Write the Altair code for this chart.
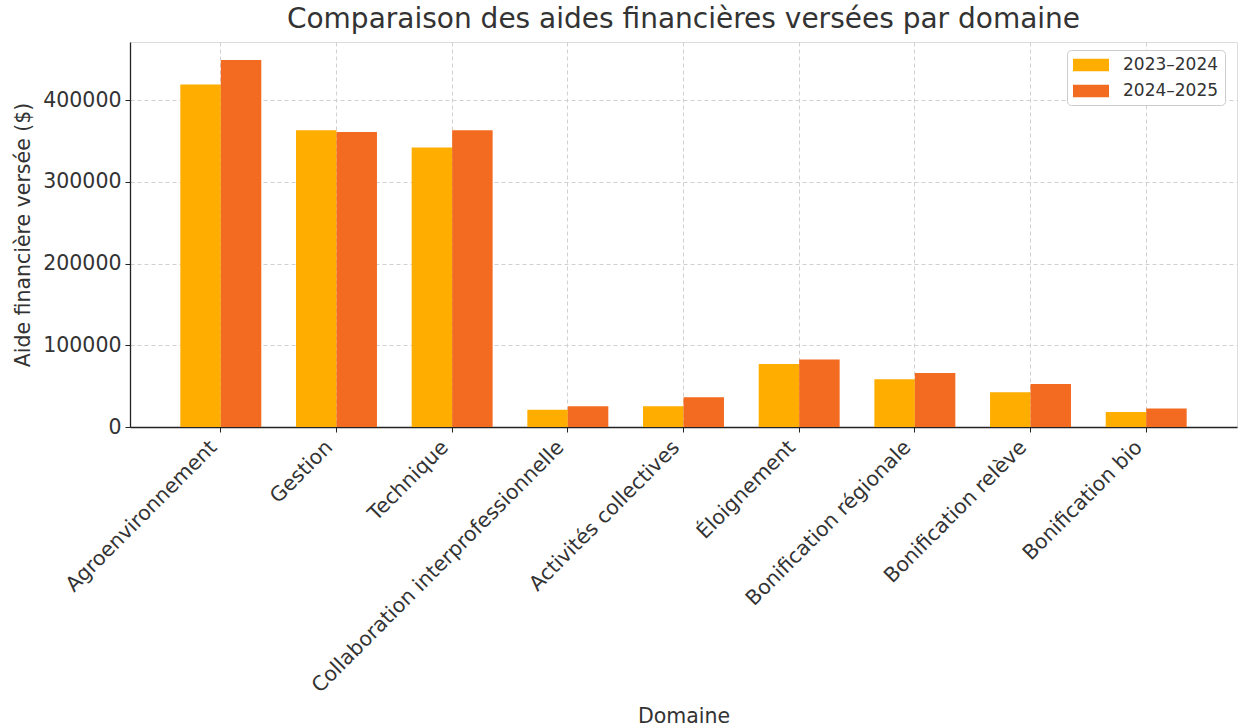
import altair as alt
import pandas as pd

domaines = [
    "Agroenvironnement", "Gestion", "Technique",
    "Collaboration interprofessionnelle", "Activités collectives",
    "Éloignement", "Bonification régionale", "Bonification relève",
    "Bonification bio",
]
periodes = ["2023–2024", "2024–2025"]
aide_2023_2024 = [419000, 363000, 342000, 21000, 25500, 77000, 58500, 42500, 18500]
aide_2024_2025 = [449000, 361000, 363000, 25500, 36500, 82500, 66000, 52500, 22500]
couleurs = ["#FFAE00", "#F26B21"]
y_ticks = [0, 100000, 200000, 300000, 400000]

rows = []
for d, a, b in zip(domaines, aide_2023_2024, aide_2024_2025):
    rows.append({"Domaine": d, "Période": periodes[0], "Aide": a})
    rows.append({"Domaine": d, "Période": periodes[1], "Aide": b})
df = pd.DataFrame(rows)

FONT = "DejaVu Sans"
TXT = "#333333"

chart = alt.Chart(df).mark_bar().encode(
    x=alt.X(
        "Domaine:N", sort=domaines,
        scale=alt.Scale(paddingInner=0.3, paddingOuter=0.435),
        axis=alt.Axis(
            title="Domaine", labelAngle=-45, labelAlign="right", labelBaseline="bottom",
            labelFontSize=20.5, labelFont=FONT, labelColor=TXT, labelPadding=19,
            titleFontSize=20.5, titleFont=FONT, titleColor=TXT, titleFontWeight="normal",
            titleY=295, titleBaseline="alphabetic",
            bandPosition=0.5, grid=True, gridDash=[4, 3], gridColor="#d0d0d0",
            domainColor="#222222", domainWidth=1.3, tickColor="#222222", tickSize=5,
            labelLimit=1000,
        ),
    ),
    xOffset=alt.XOffset("Période:N", sort=periodes,
                        scale=alt.Scale(paddingInner=0, paddingOuter=0)),
    y=alt.Y(
        "Aide:Q", scale=alt.Scale(domain=[0, 471000], nice=False, zero=True),
        axis=alt.Axis(
            title="Aide financière versée ($)", values=y_ticks, format="d",
            labelFontSize=20.5, labelFont=FONT, labelColor=TXT, labelPadding=4,
            titleFontSize=20.5, titleFont=FONT, titleColor=TXT, titleFontWeight="normal",
            titleX=-107, titleBaseline="middle",
            grid=True, gridDash=[4, 3], gridColor="#d0d0d0",
            domainColor="#222222", domainWidth=1.3, tickColor="#222222", tickSize=5,
        ),
    ),
    color=alt.Color(
        "Période:N", sort=periodes,
        scale=alt.Scale(domain=periodes, range=couleurs),
        legend=alt.Legend(
            title=None, orient="none", legendX=937, legendY=8,
            symbolType="M-1,-0.7H3V0.7H-1Z", symbolSize=324,
            symbolStrokeWidth=0, symbolOpacity=1,
            labelFontSize=17, labelFont=FONT, labelColor=TXT, labelOffset=32,
            rowPadding=9, padding=6,
            fillColor="white", strokeColor="#cccccc", cornerRadius=4,
        ),
    ),
).properties(
    width=1107, height=385,
    title=alt.TitleParams(
        "Comparaison des aides financières versées par domaine",
        fontSize=28, font=FONT, color=TXT, fontWeight="normal", anchor="middle",
        offset=8,
    ),
    autosize=alt.AutoSizeParams(type="none"),
    padding={"left": 130, "top": 42, "right": 2, "bottom": 300},
).configure_view(stroke=None).configure(background="white")

chart.save("out.html", embed_options={"renderer": "svg", "actions": False})
